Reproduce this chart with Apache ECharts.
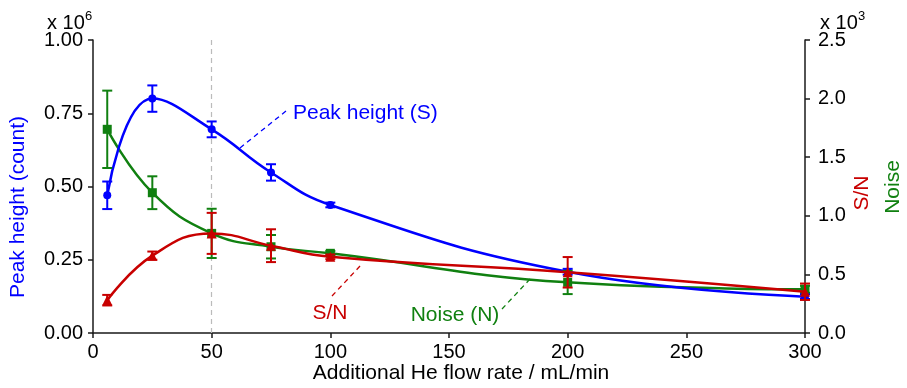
<!DOCTYPE html>
<html>
<head>
<meta charset="utf-8">
<script src="https://cdn.jsdelivr.net/npm/echarts@6/dist/echarts.min.js"></script>
<style>
html,body{margin:0;padding:0;background:#fff;}
#c{width:907px;height:388px;}
</style>
</head>
<body>
<div id="c"></div>
<script>
// Data (x: additional He flow rate, mL/min)
const flowRates = [6, 25, 50, 75, 100, 200, 300];
// Peak height (x10^6 counts)
const peakHeight = [0.47, 0.80, 0.695, 0.548, 0.437, 0.209, 0.124];
const peakHeightErr = [0.047, 0.045, 0.027, 0.028, 0.008, 0.010, 0.008];
// Noise (x10^3)
const noise = [1.738, 1.197, 0.85, 0.736, 0.68, 0.432, 0.373];
const noiseErr = [0.33, 0.14, 0.21, 0.10, 0.02, 0.10, 0.03];
// S/N (x10^3)
const snRatio = [0.28, 0.66, 0.85, 0.745, 0.65, 0.518, 0.352];
const snRatioErr = [0.045, 0.035, 0.175, 0.14, 0.02, 0.13, 0.07];

const xTicks = [0, 50, 100, 150, 200, 250, 300];

const BLUE = '#0000ff', GREEN = '#108010', RED = '#c80000';
const FONT = 'Liberation Sans, Arial, sans-serif';

function pairs(ys) { return flowRates.map((x, i) => [x, ys[i]]); }
function errData(ys, es) { return flowRates.map((x, i) => [x, ys[i] - es[i], ys[i] + es[i]]); }

function errorSeries(ys, es, color, yAxisIndex) {
  return {
    type: 'custom',
    yAxisIndex: yAxisIndex,
    data: errData(ys, es),
    z: 5,
    renderItem: function (params, api) {
      const x = api.value(0);
      const lo = api.coord([x, api.value(1)]);
      const hi = api.coord([x, api.value(2)]);
      const w = 5;
      const style = { stroke: color, lineWidth: 2 };
      return {
        type: 'group',
        children: [
          { type: 'line', shape: { x1: lo[0], y1: lo[1], x2: hi[0], y2: hi[1] }, style: style },
          { type: 'line', shape: { x1: lo[0] - w, y1: lo[1], x2: lo[0] + w, y2: lo[1] }, style: style },
          { type: 'line', shape: { x1: hi[0] - w, y1: hi[1], x2: hi[0] + w, y2: hi[1] }, style: style }
        ]
      };
    }
  };
}

function lineSeries(name, ys, color, symbol, size, yAxisIndex, z) {
  return {
    name: name,
    type: 'line',
    yAxisIndex: yAxisIndex,
    data: pairs(ys),
    smooth: 0.45,
    symbol: symbol,
    symbolSize: size,
    showAllSymbol: true,
    lineStyle: { color: color, width: 2.5 },
    itemStyle: { color: color },
    z: z
  };
}

const chart = echarts.init(document.getElementById('c'), null, { renderer: 'canvas' });
const axisLineStyle = { color: '#1a1a1a', width: 1.5 };
const option = {
  animation: false,
  backgroundColor: '#fff',
  grid: { left: 93, right: 102, top: 40, bottom: 55 },
  xAxis: {
    type: 'value', min: 0, max: 300, interval: 50,
    axisLine: { show: true, lineStyle: axisLineStyle },
    axisTick: { show: true, length: 5, lineStyle: axisLineStyle },
    axisLabel: { fontSize: 20, color: '#000', fontFamily: FONT, margin: 9 },
    splitLine: { show: false }
  },
  yAxis: [
    {
      type: 'value', min: 0, max: 1, interval: 0.25, position: 'left',
      axisLine: { show: true, lineStyle: axisLineStyle },
      axisTick: { show: true, length: 5, lineStyle: axisLineStyle },
      axisLabel: { fontSize: 20, color: '#000', fontFamily: FONT, margin: 10,
        formatter: v => v.toFixed(2) },
      splitLine: { show: false }
    },
    {
      type: 'value', min: 0, max: 2.5, interval: 0.5, position: 'right',
      axisLine: { show: true, lineStyle: axisLineStyle },
      axisTick: { show: true, length: 5, lineStyle: axisLineStyle },
      axisLabel: { fontSize: 20, color: '#000', fontFamily: FONT, margin: 13,
        formatter: v => v.toFixed(1) },
      splitLine: { show: false }
    }
  ],
  series: [
    Object.assign(lineSeries('Noise', noise, GREEN, 'rect', 9, 1, 3), {
      markLine: {
        silent: true, symbol: 'none', label: { show: false },
        lineStyle: { color: '#bbbbbb', type: [5, 4], width: 1.2 },
        data: [{ xAxis: 50 }]
      }
    }),
    errorSeries(noise, noiseErr, GREEN, 1),
    lineSeries('Peak height', peakHeight, BLUE, 'circle', 8, 0, 4),
    errorSeries(peakHeight, peakHeightErr, BLUE, 0),
    lineSeries('S/N', snRatio, RED, 'triangle', 10, 1, 6),
    errorSeries(snRatio, snRatioErr, RED, 1)
  ],
  graphic: [
    { type: 'text', left: 47, top: 13, style: { text: 'x 10', font: '20px ' + FONT, fill: '#000' } },
    { type: 'text', left: 85, top: 10, style: { text: '6', font: '13px ' + FONT, fill: '#000' } },
    { type: 'text', left: 820, top: 13, style: { text: 'x 10', font: '20px ' + FONT, fill: '#000' } },
    { type: 'text', left: 858, top: 10, style: { text: '3', font: '13px ' + FONT, fill: '#000' } },
    { type: 'text', x: 18, y: 207, rotation: Math.PI / 2,
      style: { text: 'Peak height (count)', font: '21px ' + FONT, fill: BLUE, align: 'center', verticalAlign: 'middle' } },
    { type: 'text', x: 862, y: 193, rotation: Math.PI / 2,
      style: { text: 'S/N', font: '21px ' + FONT, fill: RED, align: 'center', verticalAlign: 'middle' } },
    { type: 'text', x: 893, y: 187, rotation: Math.PI / 2,
      style: { text: 'Noise', font: '21px ' + FONT, fill: GREEN, align: 'center', verticalAlign: 'middle' } },
    { type: 'text', x: 461, y: 373,
      style: { text: 'Additional He flow rate / mL/min', font: '21px ' + FONT, fill: '#000', align: 'center', verticalAlign: 'middle' } },
    // annotations
    { type: 'text', x: 293, y: 113,
      style: { text: 'Peak height (S)', font: '21px ' + FONT, fill: BLUE, align: 'left', verticalAlign: 'middle' } },
    { type: 'line', shape: { x1: 240, y1: 148, x2: 286, y2: 111 }, style: { stroke: BLUE, lineWidth: 1.3, lineDash: [5, 4] } },
    { type: 'text', x: 330, y: 313,
      style: { text: 'S/N', font: '21px ' + FONT, fill: RED, align: 'center', verticalAlign: 'middle' } },
    { type: 'line', shape: { x1: 332, y1: 296, x2: 361, y2: 265 }, style: { stroke: RED, lineWidth: 1.3, lineDash: [5, 4] } },
    { type: 'text', x: 455, y: 315,
      style: { text: 'Noise (N)', font: '21px ' + FONT, fill: GREEN, align: 'center', verticalAlign: 'middle' } },
    { type: 'line', shape: { x1: 502, y1: 309, x2: 530, y2: 279 }, style: { stroke: GREEN, lineWidth: 1.3, lineDash: [5, 4] } }
  ]
};
chart.setOption(option);
</script>
</body>
</html>
